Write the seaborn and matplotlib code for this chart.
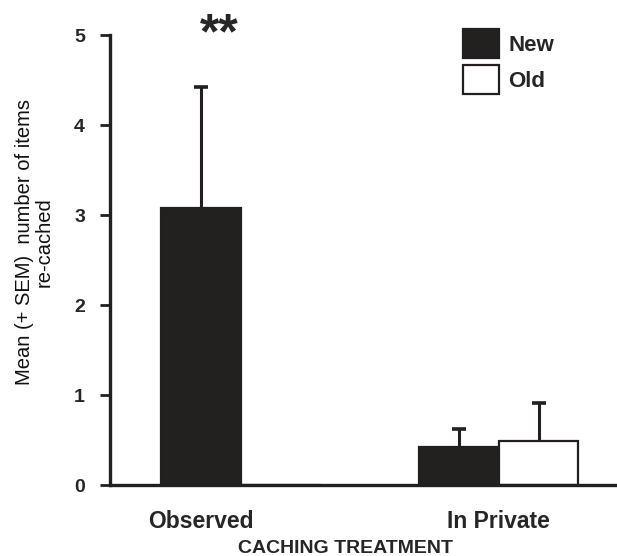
import matplotlib
matplotlib.use("Agg")
import matplotlib.pyplot as plt
import seaborn as sns
import pandas as pd

# ---- data ----
treatments = ["Observed", "Observed", "In Private", "In Private"]
ages = ["New", "Old", "New", "Old"]
means = [3.08, 0.0, 0.42, 0.49]
sems = [1.34, 0.0, 0.20, 0.42]
yticks = [0, 1, 2, 3, 4, 5]
xlabel = "CACHING TREATMENT"
ylabel = "Mean (+ SEM)  number of items\nre-cached"
signif = "**"

df = pd.DataFrame({"treatment": treatments, "age": ages, "mean": means, "sem": sems})

sns.set_theme(style="ticks")
plt.rcParams["font.family"] = ["Liberation Sans", "DejaVu Sans"]

fig = plt.figure(figsize=(6.17, 5.56), dpi=100)
ax = fig.add_axes([110/617, 1-485/556, (617-110)/617, (485-35)/556])

sns.barplot(data=df, x="treatment", y="mean", hue="age",
            palette={"New": "#231f20", "Old": "white"},
            edgecolor="#231f20", linewidth=1.6, width=0.62,
            errorbar=None, ax=ax, legend=True, zorder=2)

# error bars (upper only) at bar centres
for cont, lvl in zip(ax.containers, ["New", "Old"]):
    sub = df[df["age"] == lvl]
    xs = [p.get_x() + p.get_width()/2 for p in cont]
    ys = list(sub["mean"])
    es = list(sub["sem"])
    for x, y, e in zip(xs, ys, es):
        if e > 0:
            eb = ax.errorbar([x], [y], yerr=[[0], [e]], fmt="none", ecolor="#231f20",
                             elinewidth=2.2, capsize=5, capthick=2.6, zorder=1)
            eb[1][0].set_visible(False)

obs_new = ax.containers[0][0]
obs_new_x = obs_new.get_x() + obs_new.get_width()/2
ax.set_xticks([obs_new_x, 1])
ax.set_xticklabels(["Observed", "In Private"], fontsize=16.5, fontweight="bold")
ax.tick_params(axis="x", length=0, pad=18)

ax.set_ylim(0, 5)
ax.set_xlim(-0.51, 1.46)
ax.set_yticks(yticks)
ax.set_yticklabels([str(t) for t in yticks], fontsize=14, fontweight="bold")
ax.tick_params(axis="y", length=7, width=2, pad=11, direction="out", color="#231f20")

for s in ["top", "right"]:
    ax.spines[s].set_visible(False)
for s in ["left", "bottom"]:
    ax.spines[s].set_linewidth(2.4)
    ax.spines[s].set_color("#231f20")

ax.set_xlabel(xlabel, fontsize=14, fontweight="bold")
ax.xaxis.set_label_coords(0.465, -0.122)
ax.set_ylabel(ylabel, fontsize=14.5, linespacing=1.0, color="#111111")
ax.yaxis.set_label_coords(-0.112, 0.54)

ax.text(obs_new_x + 0.07, 5.0, signif, ha="center", va="center",
        fontsize=36, fontweight="bold", clip_on=False)

handles, labels = ax.get_legend_handles_labels()
ax.legend(handles, labels, loc="upper left",
          bbox_to_anchor=(463/617, 1-29/556), bbox_transform=fig.transFigure,
          frameon=False, borderpad=0, borderaxespad=0,
          handlelength=1.6, handleheight=1.6, labelspacing=0.35,
          handletextpad=0.45, prop={"size": 16, "weight": "bold"})

fig.savefig("out.png", dpi=100)
